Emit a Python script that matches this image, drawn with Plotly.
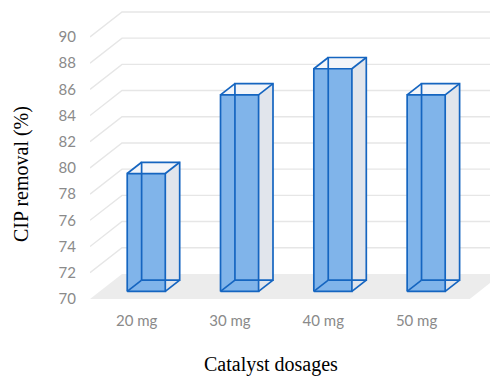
import plotly.graph_objects as go

# ---- data ----
categories = ["20 mg", "30 mg", "40 mg", "50 mg"]
removal = [79, 85, 87, 85]
y_ticks = [70, 72, 74, 76, 78, 80, 82, 84, 86, 88, 90]
y_base = 70

# ---- 3D-look styling constants (depth projection in axis units) ----
DEPTH_X = 0.343
DEPTH_Y = 1.908
BAR_D0 = 0.30
BAR_D1 = 0.75
HALF_W = 0.204
FLOOR_X0 = -0.5
FLOOR_X1 = 3.57

EDGE = "#1565c0"
FRONT = "#80b4ea"
SIDE = "#e1e5ec"
TOP = "#f3f5f9"
GRID = "#e6e6e6"
FLOOR = "#ececec"


def proj(x, y, d):
    return x + d * DEPTH_X, y + d * DEPTH_Y


fig = go.Figure()

# floor
fx, fy = zip(*[proj(FLOOR_X0, y_base, 0), proj(FLOOR_X1, y_base, 0),
               proj(FLOOR_X1, y_base, 1), proj(FLOOR_X0, y_base, 1),
               proj(FLOOR_X0, y_base, 0)])
fig.add_trace(go.Scatter(x=fx, y=fy, fill="toself", fillcolor=FLOOR,
                         mode="lines", line=dict(width=0), hoverinfo="skip"))

# gridlines (side wall diagonal + back wall horizontal)
gx, gy = [], []
for t in y_ticks[1:]:
    pts = [proj(FLOOR_X0, t, 0), proj(FLOOR_X0, t, 1), proj(FLOOR_X1 + 1.0, t, 1)]
    for p in pts:
        gx.append(p[0]); gy.append(p[1])
    gx.append(None); gy.append(None)
fig.add_trace(go.Scatter(x=gx, y=gy, mode="lines",
                         line=dict(color=GRID, width=1.4), hoverinfo="skip"))

# bars
ex, ey = [], []
for i, v in enumerate(removal):
    xl, xr = i - HALF_W, i + HALF_W
    FLB = proj(xl, y_base, BAR_D0); FRB = proj(xr, y_base, BAR_D0)
    FLT = proj(xl, v, BAR_D0); FRT = proj(xr, v, BAR_D0)
    BLB = proj(xl, y_base, BAR_D1); BRB = proj(xr, y_base, BAR_D1)
    BLT = proj(xl, v, BAR_D1); BRT = proj(xr, v, BAR_D1)

    for poly, col in [([FRB, BRB, BRT, FRT, FRB], SIDE),
                      ([FLT, FRT, BRT, BLT, FLT], TOP),
                      ([FLB, FRB, FRT, FLT, FLB], FRONT)]:
        px, py = zip(*poly)
        fig.add_trace(go.Scatter(x=px, y=py, fill="toself", fillcolor=col,
                                 mode="lines", line=dict(width=0),
                                 hoverinfo="skip"))
    segs = [[FLB, FRB, FRT, FLT, FLB], [BLB, BRB, BRT, BLT, BLB],
            [FLB, BLB], [FRB, BRB], [FRT, BRT], [FLT, BLT]]
    for s in segs:
        for p in s:
            ex.append(p[0]); ey.append(p[1])
        ex.append(None); ey.append(None)

fig.add_trace(go.Scatter(x=ex, y=ey, mode="lines",
                         line=dict(color=EDGE, width=1.7), hoverinfo="skip"))

fig.update_layout(
    width=490, height=377,
    margin=dict(l=90, r=0, t=0, b=68),
    paper_bgcolor="white", plot_bgcolor="white",
    showlegend=False,
    xaxis=dict(range=[-0.5, 3.787], tickvals=list(range(len(categories))),
               ticktext=categories, showgrid=False, zeroline=False,
               showline=False, ticks="", ticklabelstandoff=1,
               tickfont=dict(family="Lato", size=15, color="#8a8a8a")),
    yaxis=dict(range=[69.23, 92.82], tickvals=y_ticks,
               ticktext=[str(t) for t in y_ticks], showgrid=False,
               zeroline=False, showline=False, ticks="",
               ticklabelstandoff=13,
               tickfont=dict(family="Lato", size=15, color="#8a8a8a")),
    annotations=[
        dict(text="CIP removal (%)", textangle=-90, xref="paper", yref="paper",
             x=-0.17, y=0.437, xanchor="center", yanchor="middle",
             showarrow=False,
             font=dict(family="Liberation Serif", size=20, color="black")),
        dict(text="Catalyst dosages", xref="paper", yref="paper",
             x=0.4525, y=-0.178, xanchor="center", yanchor="middle",
             showarrow=False,
             font=dict(family="Liberation Serif", size=20, color="black")),
    ],
)

fig.write_html("out.html")
